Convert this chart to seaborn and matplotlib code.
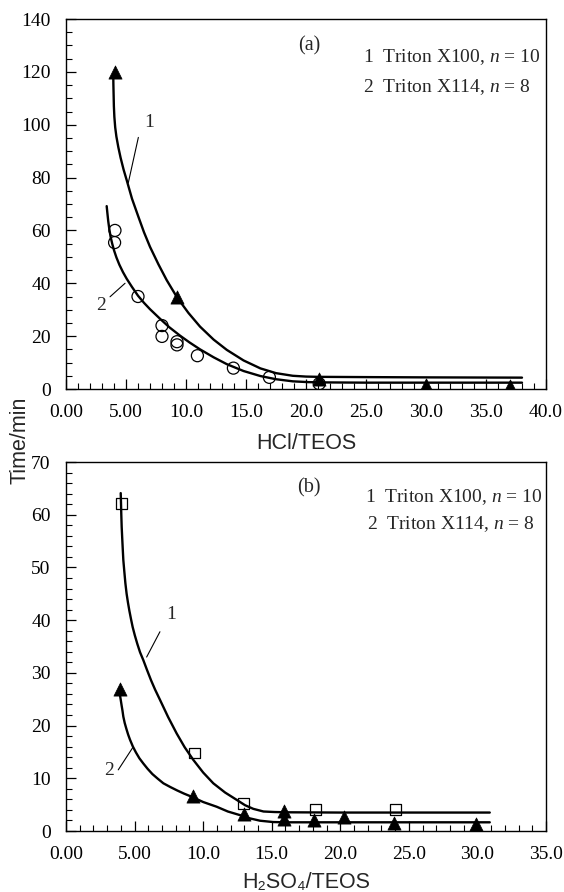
import matplotlib
matplotlib.use("Agg")
import matplotlib.pyplot as plt
import seaborn as sns
import pandas as pd
from matplotlib.ticker import MultipleLocator

# ---------------- data ----------------
# Panel (a): HCl/TEOS
a_tri_x = [4.05, 9.25, 21.1, 30.0, 37.0]
a_tri_y = [120.0, 34.7, 3.6, 1.6, 1.3]
a_circ_x = [4.08, 4.05, 6.0, 8.0, 8.0, 9.25, 9.25, 10.95, 13.95, 16.95, 21.1]
a_circ_y = [60.0, 55.4, 35.0, 24.0, 19.9, 17.9, 16.7, 12.6, 7.9, 4.4, 2.0]
a_curve1_x = [3.94, 3.95, 3.97, 3.99, 4.03, 4.1, 4.2, 4.36, 4.55, 4.8, 5.06, 5.5, 6.03,
              6.5, 7.0, 7.7, 8.39, 9.25, 10.2, 11.17, 12.3, 13.4, 14.8, 16.2, 17.5,
              18.9, 20.0, 21.0, 25.0, 30.0, 38.0]
a_curve1_y = [118.2, 115.0, 111.0, 107.0, 103.0, 99.0, 95.5, 91.5, 87.5, 83.0, 79.0, 72.0,
              65.2, 59.3, 53.8, 47.2, 41.2, 34.7, 28.8, 23.6, 18.7, 14.8, 10.8, 7.8, 6.0,
              5.0, 4.7, 4.6, 4.5, 4.4, 4.3]
a_curve2_x = [3.39, 3.45, 3.52, 3.61, 3.72, 3.85, 4.0, 4.2, 4.45, 4.75, 5.06, 5.5, 6.0,
              6.5, 7.0, 7.83, 8.6, 9.5, 10.3, 11.17, 12.3, 13.4, 14.8, 16.2, 17.5, 18.9,
              20.2, 21.4, 25.0, 30.0, 38.0]
a_curve2_y = [69.2, 66.5, 63.5, 60.5, 57.5, 55.0, 52.5, 49.8, 47.0, 44.2, 41.7, 38.6, 35.3,
              32.6, 30.2, 26.6, 23.4, 20.2, 17.6, 15.0, 12.0, 9.4, 6.8, 4.9, 3.7, 2.9,
              2.6, 2.5, 2.4, 2.4, 2.4]

# Panel (b): H2SO4/TEOS
b_sq_x = [4.06, 9.34, 12.95, 18.2, 24.0]
b_sq_y = [62.2, 14.8, 5.2, 4.1, 4.0]
b_tri_x = [3.95, 9.29, 12.95, 15.9, 15.9, 18.1, 20.3, 23.9, 29.9]
b_tri_y = [26.9, 6.7, 3.3, 3.7, 2.2, 2.0, 2.6, 1.6, 1.3]
b_curve1_x = [3.99, 4.01, 4.03, 4.06, 4.1, 4.14, 4.18, 4.25, 4.33, 4.42, 4.52, 4.62,
              4.74, 4.86, 5.02, 5.2, 5.4, 5.64, 5.9, 6.2, 6.5, 6.85, 7.45, 8.07, 8.65,
              9.28, 10.0, 10.74, 11.6, 12.45, 13.05, 13.66, 14.4, 15.2, 16.1, 20.0,
              25.0, 30.9]
b_curve1_y = [64.1, 62.3, 60.2, 57.7, 55.5, 53.4, 51.4, 49.3, 47.0, 45.0, 43.3, 41.8,
              40.2, 38.7, 37.1, 35.5, 33.9, 32.4, 30.6, 28.6, 26.8, 24.9, 21.6, 18.5,
              15.9, 13.5, 11.1, 9.05, 7.3, 5.9, 4.9, 4.2, 3.7, 3.6, 3.55, 3.5, 3.5, 3.5]
b_curve2_x = [3.89, 3.91, 3.94, 3.99, 4.05, 4.12, 4.18, 4.28, 4.4, 4.53, 4.67, 4.88, 5.1,
              5.35, 5.64, 5.95, 6.3, 6.7, 7.1, 7.6, 8.1, 8.6, 9.16, 10.0, 10.99, 11.8,
              12.7, 13.4, 14.15, 15.1, 16.0, 20.0, 25.0, 30.9]
b_curve2_y = [27.1, 26.5, 25.7, 24.9, 23.9, 22.8, 21.7, 20.5, 19.4, 18.3, 17.3, 16.0, 14.9,
              13.8, 12.8, 11.8, 10.8, 9.9, 9.05, 8.35, 7.7, 7.1, 6.5, 5.5, 4.6, 3.7,
              3.0, 2.4, 1.95, 1.7, 1.65, 1.65, 1.65, 1.65]

a_xticks = [0, 5, 10, 15, 20, 25, 30, 35, 40]
a_xticklabels = ["0.00", "5.00", "10.0", "15.0", "20.0", "25.0", "30.0", "35.0", "40.0"]
a_yticks = [0, 20, 40, 60, 80, 100, 120, 140]
b_xticks = [0, 5, 10, 15, 20, 25, 30, 35]
b_xticklabels = ["0.00", "5.00", "10.0", "15.0", "20.0", "25.0", "30.0", "35.0"]
b_yticks = [0, 10, 20, 30, 40, 50, 60, 70]

legend_lines = ["1  Triton X100, $n$ = 10", "2  Triton X114, $n$ = 8"]

# ---------------- style ----------------
sns.set_theme(style="ticks")
plt.rcParams["font.family"] = ["Liberation Serif", "DejaVu Serif"]
plt.rcParams["mathtext.fontset"] = "custom"
plt.rcParams["mathtext.rm"] = "Liberation Serif"
plt.rcParams["mathtext.it"] = "Liberation Serif:italic"
plt.rcParams["axes.linewidth"] = 1.0
plt.rcParams["axes.edgecolor"] = "black"
plt.rcParams["lines.solid_joinstyle"] = "round"

SANS = ["Liberation Sans", "DejaVu Sans"]
W, H = 564, 892
fig = plt.figure(figsize=(W / 100, H / 100), dpi=100)
ax1 = fig.add_axes([66 / W, (H - 389) / H, 480 / W, 370 / H])
ax2 = fig.add_axes([66 / W, (H - 831) / H, 480 / W, 369 / H])

LW = 1.7


def curve(ax, xs, ys):
    df = pd.DataFrame({"x": xs, "y": ys})
    sns.lineplot(data=df, x="x", y="y", ax=ax, sort=False, estimator=None,
                 color="black", lw=LW, zorder=2)


def filled_tri(ax, xs, ys):
    df = pd.DataFrame({"x": xs, "y": ys})
    sns.scatterplot(data=df, x="x", y="y", ax=ax, marker="^", s=90,
                    color="black", edgecolor="black", linewidth=0.5, zorder=3)


def open_mark(ax, xs, ys, marker, s):
    df = pd.DataFrame({"x": xs, "y": ys})
    sns.scatterplot(data=df, x="x", y="y", ax=ax, marker=marker, s=s,
                    facecolor="none", edgecolor="black", linewidth=0.9, zorder=3)


# panel (a)
curve(ax1, a_curve1_x, a_curve1_y)
curve(ax1, a_curve2_x, a_curve2_y)
open_mark(ax1, a_circ_x, a_circ_y, "o", 75)
filled_tri(ax1, a_tri_x, a_tri_y)

# panel (b)
curve(ax2, b_curve1_x, b_curve1_y)
curve(ax2, b_curve2_x, b_curve2_y)
open_mark(ax2, b_sq_x, b_sq_y, "s", 62)
filled_tri(ax2, b_tri_x, b_tri_y)

for ax, xt, xtl, yt, xmax, ymax, ymin_step in [
        (ax1, a_xticks, a_xticklabels, a_yticks, 40, 140, 5),
        (ax2, b_xticks, b_xticklabels, b_yticks, 35, 70, 2)]:
    ax.set_xlim(0, xmax)
    ax.set_ylim(0, ymax)
    ax.set_xticks(xt)
    ax.set_xticklabels(xtl)
    ax.set_yticks(yt)
    ax.xaxis.set_minor_locator(MultipleLocator(1))
    ax.yaxis.set_minor_locator(MultipleLocator(ymin_step))
    ax.tick_params(which="major", direction="in", length=7, width=0.9,
                   labelsize=14, pad=11, top=False, right=False, colors="black")
    ax.tick_params(which="minor", direction="in", length=4, width=0.8,
                   top=False, right=False, colors="black")
    ax.set_xlabel("")
    ax.set_ylabel("")
    for sp in ax.spines.values():
        sp.set_visible(True)
        sp.set_color("black")
        sp.set_linewidth(1.0)

# axis labels
ax1.text(0.5, -0.162, "HCl/TEOS", transform=ax1.transAxes, ha="center",
         va="baseline", fontsize=15.5, family=SANS)
ax2.text(0.5, -0.155, "H₂SO₄/TEOS", transform=ax2.transAxes, ha="center",
         va="baseline", fontsize=15.5, family=SANS)
fig.text(20 / W, 1 - 440 / H, "Time/min", rotation=90, ha="center", va="center",
         fontsize=15.5, family=SANS)

# panel labels and legends
ax1.text(20.25, 130, "(a)", ha="center", va="center", fontsize=14.5)
ax1.text(24.75, 125.6, legend_lines[0], ha="left", va="center", fontsize=14)
ax1.text(24.75, 114.3, legend_lines[1], ha="left", va="center", fontsize=14)
ax2.text(17.7, 65.0, "(b)", ha="center", va="center", fontsize=14.5)
ax2.text(21.8, 63.4, legend_lines[0], ha="left", va="center", fontsize=14)
ax2.text(21.95, 58.2, legend_lines[1], ha="left", va="center", fontsize=14)

# curve labels with leader lines
ax1.text(6.9, 101, "1", ha="center", va="center", fontsize=14)
ax1.plot([6.03, 5.19], [95.2, 78.0], color="black", lw=0.8)
ax1.text(2.95, 31.5, "2", ha="center", va="center", fontsize=14)
ax1.plot([3.67, 4.92], [34.9, 40.0], color="black", lw=0.8)
ax2.text(7.7, 41.0, "1", ha="center", va="center", fontsize=14)
ax2.plot([6.85, 5.88], [37.8, 33.0], color="black", lw=0.8)
ax2.text(3.15, 11.4, "2", ha="center", va="center", fontsize=14)
ax2.plot([3.81, 4.91], [11.6, 16.0], color="black", lw=0.8)

fig.savefig("out.png", dpi=100, facecolor="white")
